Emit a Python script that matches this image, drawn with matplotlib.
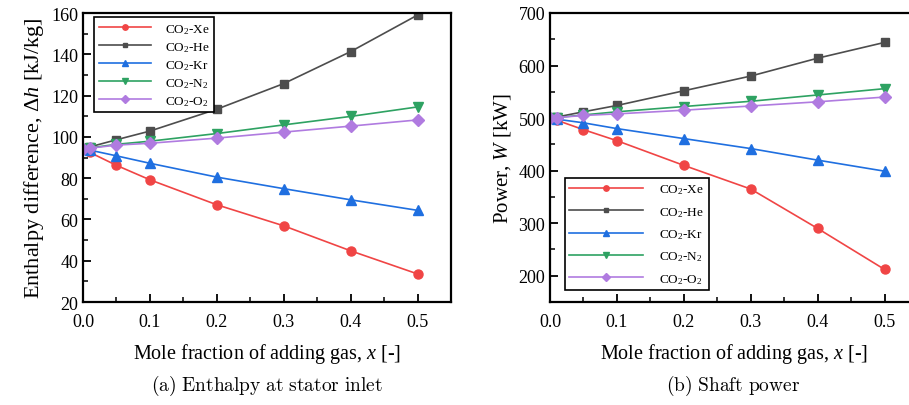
import matplotlib
matplotlib.use("Agg")
import matplotlib.pyplot as plt

plt.rcParams["font.family"] = ["Liberation Serif", "DejaVu Serif"]
plt.rcParams["mathtext.fontset"] = "custom"
plt.rcParams["mathtext.rm"] = "Liberation Serif"
plt.rcParams["mathtext.it"] = "Liberation Serif:italic"

# ─── 数据 ────────────────────────────────────────────────
x = [0.0, 0.01, 0.05, 0.1, 0.2, 0.3, 0.4, 0.5]

labels = [r"CO$_2$-Xe", r"CO$_2$-He", r"CO$_2$-Kr", r"CO$_2$-N$_2$", r"CO$_2$-O$_2$"]

dh_xe = [94.3, 92.5, 86.2, 79.2, 67.1, 56.9, 44.8, 33.6]
dh_he = [94.3, 95.1, 98.6, 102.8, 113.4, 125.8, 141.3, 159.0]
dh_kr = [94.3, 93.6, 90.8, 87.2, 80.5, 74.9, 69.5, 64.4]
dh_n2 = [94.3, 94.6, 96.4, 97.9, 101.6, 105.8, 109.9, 114.5]
dh_o2 = [94.3, 94.5, 96.0, 96.9, 99.4, 102.3, 105.2, 108.2]

w_xe = [500, 496, 478, 457, 410, 365, 290, 212]
w_he = [500, 502, 512, 524, 552, 580, 614, 644]
w_kr = [500, 498, 491, 480, 461, 442, 420, 399]
w_n2 = [500, 501, 506, 512, 522, 532, 544, 556]
w_o2 = [500, 501, 505, 508, 515, 523, 531, 540]

colors = ["#f04545", "#4d4d4d", "#1f6fe0", "#2ea262", "#b07be0"]
markers = ["o", "s", "^", "v", "D"]
msizes = [6.5, 6, 7.5, 7.5, 6.5]


def style_axes(ax):
    for sp in ax.spines.values():
        sp.set_linewidth(1.6)
    ax.tick_params(which="both", direction="in", top=False, right=False, labelsize=13)
    ax.tick_params(which="major", length=6, width=1.3)
    ax.tick_params(which="minor", length=3.5, width=1.1)
    ax.tick_params(axis="x", which="major", pad=8)
    ax.set_xlim(0, 0.55)
    ax.set_xticks([0.0, 0.1, 0.2, 0.3, 0.4, 0.5])
    ax.set_xticklabels(["0.0", "0.1", "0.2", "0.3", "0.4", "0.5"])
    ax.set_xticks([0.05, 0.15, 0.25, 0.35, 0.45], minor=True)
    ax.set_xlabel(r"Mole fraction of adding gas, $\mathit{x}$ [-]", fontsize=14.5, labelpad=8)


def draw_series(ax, series):
    for vals, lab, c, m, ms in zip(series, labels, colors, markers, msizes):
        ax.plot(x, vals, "-", marker=m, color=c, ms=ms, lw=1.2, label=lab)


def add_legend(ax, hl, htp, ls, **kw):
    leg = ax.legend(fontsize=9.5, markerscale=0.6, handlelength=hl,
                    handletextpad=htp, labelspacing=ls, fancybox=False,
                    edgecolor="black", framealpha=1, borderpad=0.35,
                    borderaxespad=0, **kw)
    leg.get_frame().set_linewidth(1.2)
    return leg


fig = plt.figure(figsize=(9.09, 4.06), dpi=100)
ax1 = fig.add_axes([83 / 909, 1 - 303 / 406, 368 / 909, 289 / 406])
ax2 = fig.add_axes([550 / 909, 1 - 303 / 406, 368 / 909, 289 / 406])

# (a) 焓差
draw_series(ax1, [dh_xe, dh_he, dh_kr, dh_n2, dh_o2])
style_axes(ax1)
ax1.set_ylim(20, 160)
ax1.set_yticks(range(20, 161, 20))
ax1.set_yticks(range(30, 160, 20), minor=True)
ax1.set_ylabel(r"Enthalpy difference, $\Delta\mathit{h}$ [kJ/kg]", fontsize=16)
add_legend(ax1, 4.0, 1.0, 0.32, loc="upper left", bbox_to_anchor=(0.03, 0.985))

# (b) 轴功率
draw_series(ax2, [w_xe, w_he, w_kr, w_n2, w_o2])
style_axes(ax2)
ax2.set_ylim(150, 700)
ax2.set_yticks(range(200, 701, 100))
ax2.set_yticks(range(150, 700, 100), minor=True)
ax2.set_ylabel(r"Power, $\mathit{W}$ [kW]", fontsize=15)
add_legend(ax2, 5.6, 1.2, 0.65, loc="lower left", bbox_to_anchor=(0.04, 0.04))

# 子图标题
fig.text(267 / 909, 1 - 386 / 406, r"$\mathrm{(a)\ Enthalpy\ at\ stator\ inlet}$",
         ha="center", va="center", fontsize=14, math_fontfamily="cm")
fig.text(733 / 909, 1 - 386 / 406, r"$\mathrm{(b)\ Shaft\ power}$",
         ha="center", va="center", fontsize=14, math_fontfamily="cm")

fig.savefig("out.png", dpi=100)
